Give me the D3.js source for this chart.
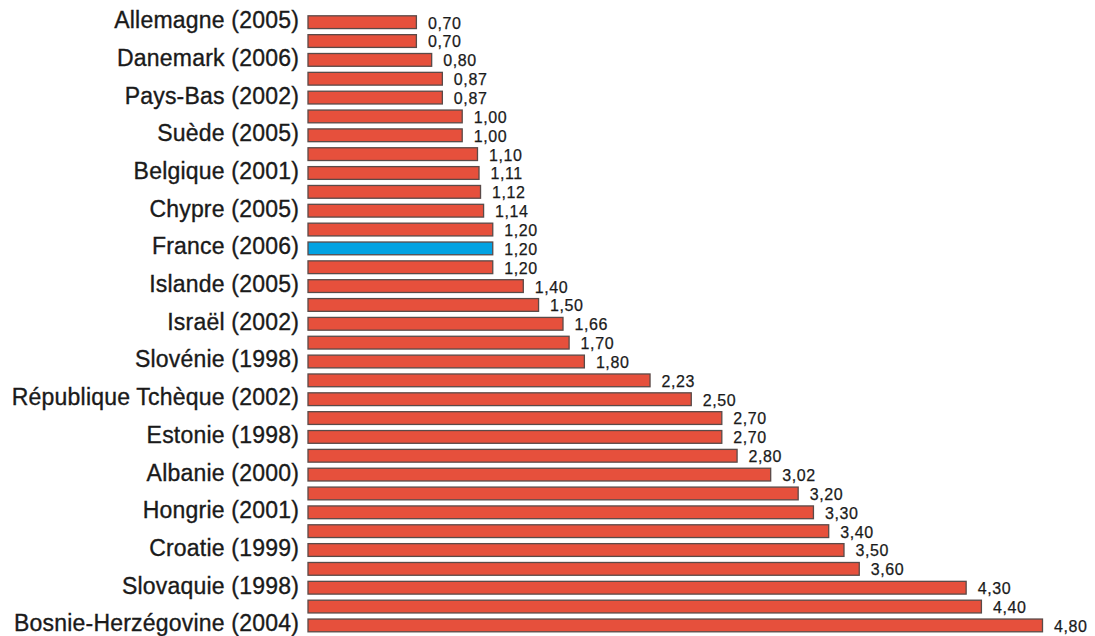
<!DOCTYPE html>
<html>
<head>
<meta charset="utf-8">
<script src="https://cdn.jsdelivr.net/npm/d3@7"></script>
<style>
  html, body { margin: 0; padding: 0; background: #fff; }
  svg { display: block; }
  .cat text { font-family: "Liberation Sans", Arial, Helvetica, sans-serif; font-size: 23px; fill: #1a1a1a; letter-spacing: 0.2px; stroke: #1a1a1a; stroke-width: 0.35px; }
  .val { font-family: "Liberation Sans", Arial, Helvetica, sans-serif; font-size: 16px; fill: #1a1a1a; letter-spacing: 0.6px; stroke: #1a1a1a; stroke-width: 0.25px; }
</style>
</head>
<body>
<svg id="chart" width="1095" height="636"></svg>
<script>
// Labels (only every other bar carries a country label)
const labels = [
  "Allemagne (2005)", null, "Danemark (2006)", null, "Pays-Bas (2002)", null,
  "Suède (2005)", null, "Belgique (2001)", null, "Chypre (2005)", null,
  "France (2006)", null, "Islande (2005)", null, "Israël (2002)", null,
  "Slovénie (1998)", null, "République Tchèque (2002)", null, "Estonie (1998)", null,
  "Albanie (2000)", null, "Hongrie (2001)", null, "Croatie (1999)", null,
  "Slovaquie (1998)", null, "Bosnie-Herzégovine (2004)"
];
const values = [
  0.70, 0.70, 0.80, 0.87, 0.87, 1.00, 1.00, 1.10, 1.11, 1.12, 1.14,
  1.20, 1.20, 1.20, 1.40, 1.50, 1.66, 1.70, 1.80, 2.23, 2.50, 2.70,
  2.70, 2.80, 3.02, 3.20, 3.30, 3.40, 3.50, 3.60, 4.30, 4.40, 4.80
];
const highlightIndex = [12];  // France (2006)

const svg = d3.select("#chart");
const idx = d3.range(values.length);

const x = d3.scaleLinear().domain([0, 4.8]).range([310, 1043]);
const y = d3.scaleBand().domain(idx).range([15.3, 632.3]).paddingInner(0.27).paddingOuter(0);

const fr = d3.formatLocale({decimal: ",", thousands: " ", grouping: [3], currency: ["", " €"]});
const fmt = fr.format(".2f");

// Category axis
const yAxis = d3.axisLeft(y)
  .tickSize(0)
  .tickPadding(0)
  .tickFormat(i => labels[i] || "");
const gy = svg.append("g").attr("class", "cat").attr("transform", "translate(299,0)").call(yAxis);
gy.select(".domain").remove();
gy.selectAll("text").attr("dy", "0.26em");

// Bars
svg.append("g").selectAll("rect").data(idx).join("rect")
  .attr("x", x(0) - 2)
  .attr("y", i => y(i) + 0.5)
  .attr("width", i => x(values[i]) - x(0) + 1.5)
  .attr("height", y.bandwidth() - 1)
  .attr("fill", i => highlightIndex.includes(i) ? "#02a2e2" : "#e6503c")
  .attr("stroke", "#5a4a48")
  .attr("stroke-width", 1.3);

// Value labels
svg.append("g").selectAll("text").data(idx).join("text")
  .attr("class", "val")
  .attr("x", i => x(values[i]) + 11)
  .attr("y", i => y(i) + y.bandwidth() / 2 + 1)
  .attr("dy", "0.34em")
  .text(i => fmt(values[i]));
</script>
</body>
</html>
